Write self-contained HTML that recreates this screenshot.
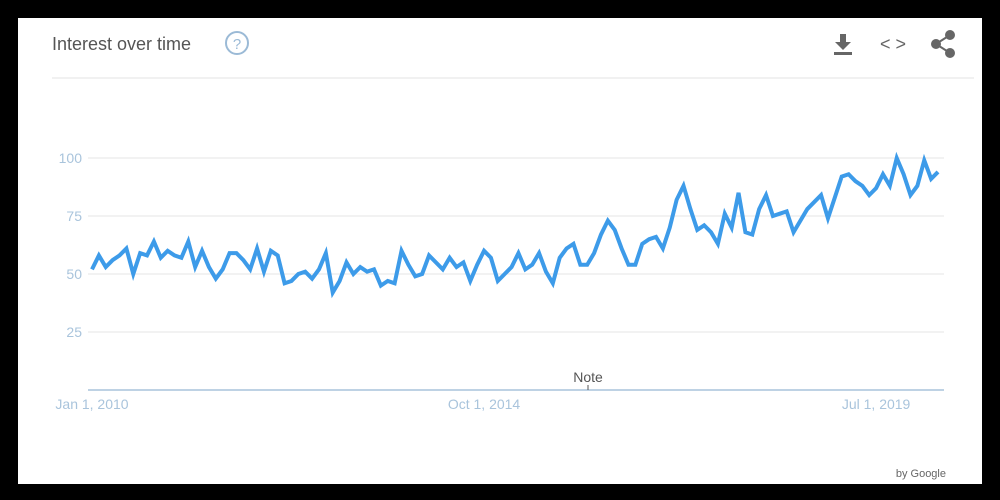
<!DOCTYPE html>
<html><head><meta charset="utf-8"><style>
body{margin:0;width:1000px;height:500px;background:#000;overflow:hidden;font-family:"Liberation Sans",sans-serif}
#card{position:absolute;left:18px;top:18px;width:964px;height:466px;background:#fff}
</style></head><body>
<div id="card">
<svg width="964" height="466" viewBox="18 18 964 466" style="position:absolute;left:0;top:0">
<text x="52" y="50" font-size="18" fill="#555">Interest over time</text>
<g><circle cx="237" cy="43" r="11" fill="none" stroke="#9bbad6" stroke-width="2"/><text x="237" y="49" font-size="15" fill="#9bbad6" text-anchor="middle">?</text></g>
<g fill="#666"><rect x="840" y="34" width="6" height="8"/><polygon points="835,42 851,42 843,50"/><rect x="834" y="52" width="18" height="3"/></g>
<text x="893" y="50" font-size="18" fill="#666" text-anchor="middle">&lt; &gt;</text>
<g fill="#666" stroke="#666" stroke-width="2"><line x1="936" y1="44" x2="950" y2="35"/><line x1="936" y1="44" x2="950" y2="53"/><circle cx="936" cy="44" r="4"/><circle cx="950" cy="35" r="4"/><circle cx="950" cy="53" r="4"/></g>
<line x1="52" y1="78" x2="974" y2="78" stroke="#e3e3e3"/>
<g id="grid"></g>
<g id="plot"></g>
<text x="946" y="477" font-size="11" fill="#666" text-anchor="end">by Google</text>
</svg></div>
<script>
const yTicks=[25,50,75,100];
const xLabels=["Jan 1, 2010","Oct 1, 2014","Jul 1, 2019"];
const xLabelIdx=[0,57,114];
const values=[52,58,53,56,58,61,50,59,58,64,57,60,58,57,64,53,60,53,48,52,59,59,56,52,61,51,60,58,46,47,50,51,48,52,59,42,47,55,50,53,51,52,45,47,46,60,54,49,50,58,55,52,57,53,55,47,54,60,57,47,50,53,59,52,54,59,51,46,57,61,63,54,54,59,67,73,69,61,54,54,63,65,66,61,70,82,88,78,69,71,68,63,76,70,85,68,67,78,84,75,76,77,68,73,78,81,84,74,83,92,93,90,88,84,87,93,88,100,93,84,88,99,91,94];
const NS="http://www.w3.org/2000/svg";
const x0=92,x1=938,yScale=v=>390-v*2.32;
const xScale=i=>x0+i*(x1-x0)/(values.length-1);
const grid=document.getElementById('grid'),plot=document.getElementById('plot');
function mk(t,a,p){const e=document.createElementNS(NS,t);for(const k in a)e.setAttribute(k,a[k]);p.appendChild(e);return e;}
yTicks.forEach(v=>{const y=yScale(v);
const l=mk('line',{x1:88,x2:944,y1:y,y2:y,stroke:'#e6e6e6'},grid);


const t=mk('text',{x:82,y:y+5,'font-size':14,fill:'#a9c4dc','text-anchor':'end'},grid);t.textContent=v;

});
const ax=mk('line',{x1:88,x2:944,y1:390,y2:390,stroke:'#a9c4dc','stroke-width':1.5},grid);


xLabels.forEach((s,k)=>{const t=mk('text',{x:xScale(xLabelIdx[k]),y:409,'font-size':14,fill:'#a9c4dc','text-anchor':'middle'},grid);t.textContent=s;

});
const n=mk('text',{x:588,y:382,'font-size':14,fill:'#555','text-anchor':'middle'},grid);n.textContent='Note';


mk('line',{x1:588,x2:588,y1:385,y2:390,stroke:'#555'},grid);
const p=mk('polyline',{points:values.map((v,i)=>xScale(i)+','+yScale(v)).join(' '),fill:'none',stroke:'#3d9be9','stroke-width':4,'stroke-linejoin':'miter'},plot);


</script></body></html>
